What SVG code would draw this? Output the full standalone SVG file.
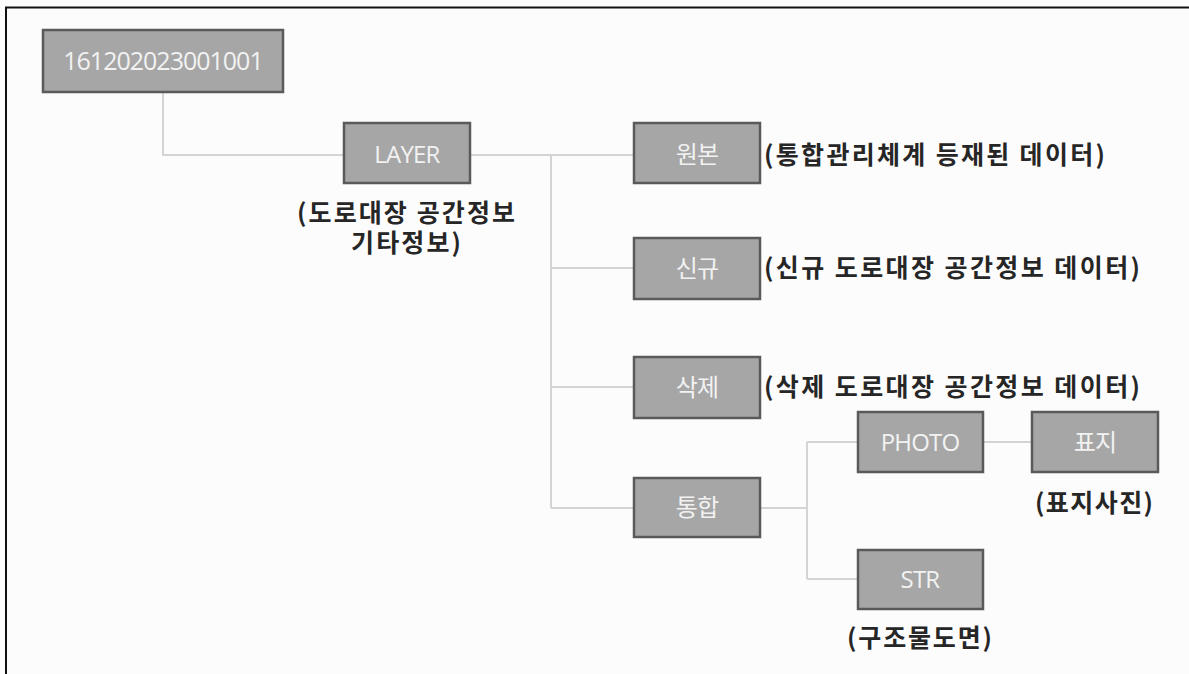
<svg xmlns="http://www.w3.org/2000/svg" width="1189" height="674" viewBox="0 0 1189 674">
<style>
.box{fill:#a6a6a6;stroke:#5a5a5a;stroke-width:2.5}
.bt{font-family:"Open Sans","Noto Sans CJK KR",sans-serif;font-size:24px;fill:#f2f2f2;text-anchor:middle;letter-spacing:-0.8px}
.lb{font-family:"Noto Sans CJK KR",sans-serif;font-size:25px;font-weight:bold;fill:#262626}
.c{fill:none;stroke:#d4d4d4;stroke-width:2}
</style>
<rect x="0" y="0" width="1189" height="674" fill="#fcfcfc"/>
<path d="M6 674 V7.5 H1189" fill="none" stroke="#111" stroke-width="2"/>
<g id="connectors">
<path class="c" d="M163 92 V155 H344"/>
<path class="c" d="M470 155 H634"/>
<path class="c" d="M551 155 V508"/>
<path class="c" d="M551 268 H634"/>
<path class="c" d="M551 387 H634"/>
<path class="c" d="M551 508 H634"/>
<path class="c" d="M760 508 H807"/>
<path class="c" d="M807 442 V579"/>
<path class="c" d="M807 442 H858"/>
<path class="c" d="M807 579 H858"/>
<path class="c" d="M983 442 H1032"/>
</g>
<g id="root">
<rect class="box" x="43" y="30" width="240" height="62"/>
<text class="bt" x="163" y="70" style="font-size:25px;letter-spacing:-1px">161202023001001</text>
</g>
<g id="layer">
<rect class="box" x="344" y="123" width="126" height="60"/>
<text class="bt" x="407" y="163">LAYER</text>
<text class="lb" x="297" y="222" textLength="218" lengthAdjust="spacing">(도로대장 공간정보</text>
<text class="lb" x="351" y="252" textLength="110" lengthAdjust="spacing">기타정보)</text>
</g>
<g id="wonbon">
<rect class="box" x="634" y="123" width="126" height="60"/>
<text class="bt" x="697" y="163">원본</text>
<text class="lb" x="764" y="164" textLength="341" lengthAdjust="spacing">(통합관리체계 등재된 데이터)</text>
</g>
<g id="singyu">
<rect class="box" x="634" y="238" width="126" height="61"/>
<text class="bt" x="697" y="277">신규</text>
<text class="lb" x="764" y="277" textLength="376" lengthAdjust="spacing">(신규 도로대장 공간정보 데이터)</text>
</g>
<g id="sakje">
<rect class="box" x="634" y="357" width="126" height="61"/>
<text class="bt" x="697" y="396">삭제</text>
<text class="lb" x="764" y="396" textLength="376" lengthAdjust="spacing">(삭제 도로대장 공간정보 데이터)</text>
</g>
<g id="tonghap">
<rect class="box" x="634" y="478" width="126" height="59"/>
<text class="bt" x="697" y="516">통합</text>
</g>
<g id="photo">
<rect class="box" x="858" y="412" width="125" height="60"/>
<text class="bt" x="920" y="451">PHOTO</text>
</g>
<g id="pyoji">
<rect class="box" x="1032" y="412" width="126" height="60"/>
<text class="bt" x="1095" y="451">표지</text>
<text class="lb" x="1035" y="512" textLength="118" lengthAdjust="spacing">(표지사진)</text>
</g>
<g id="str">
<rect class="box" x="858" y="550" width="125" height="59"/>
<text class="bt" x="920" y="588">STR</text>
<text class="lb" x="847" y="647" textLength="145" lengthAdjust="spacing">(구조물도면)</text>
</g>
</svg>
